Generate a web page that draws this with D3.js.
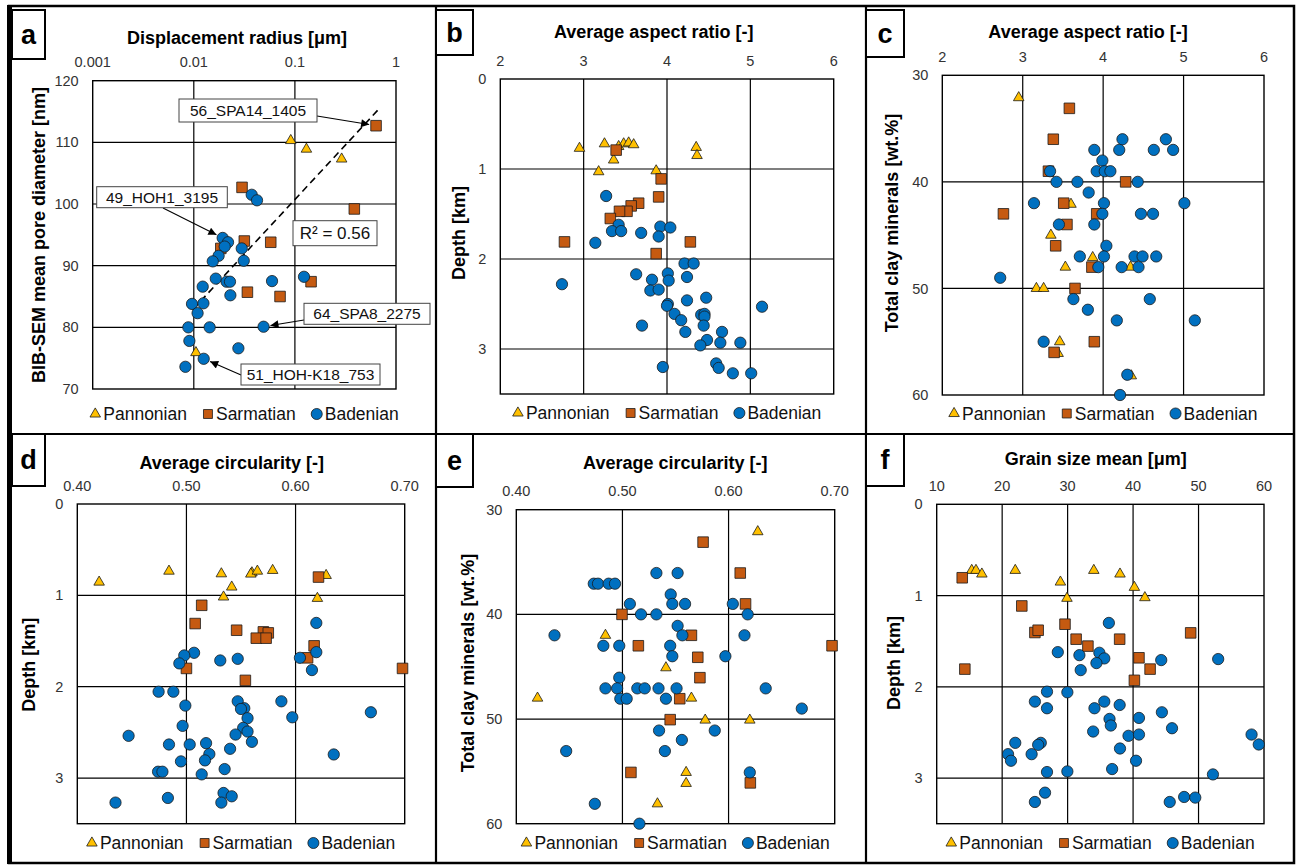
<!DOCTYPE html>
<html>
<head>
<meta charset="utf-8">
<script src="https://cdn.jsdelivr.net/npm/d3@7"></script>
<style>
  body { margin: 0; background: #fff; }
  svg { display: block; font-family: "Liberation Sans", Arial, sans-serif; }
</style>
</head>
<body>
<svg id="fig" width="1296" height="866"></svg>
<script>
// ---- data ----
const seriesNames = ["Pannonian", "Sarmatian", "Badenian"];

const aXTicks = [0.001, 0.01, 0.1, 1];
const aYTicks = [70, 80, 90, 100, 110, 120];
const ratioTicks = [2, 3, 4, 5, 6];
const depthTicks = [0, 1, 2, 3];
const clayTicks = [30, 40, 50, 60];
const circTicks = [0.40, 0.50, 0.60, 0.70];
const grainTicks = [10, 20, 30, 40, 50, 60];

// a: displacement radius [um] vs BIB-SEM mean pore diameter [nm]
const aPannonian = [[0.091,110.3],[0.13,108.9],[0.29,107.3],[0.0105,75.9]];
const aSarmatian = [[0.635,112.7],[0.030,102.7],[0.387,99.2],[0.0316,94.0],[0.0577,93.8],[0.0185,92.8],[0.0339,85.7],[0.0713,85.0],[0.1445,87.4]];
const aBadenian = [[0.0374,101.5],[0.0422,100.6],[0.0193,94.5],[0.0218,93.8],[0.0202,93.1],[0.0298,92.8],[0.0176,91.6],[0.0154,90.7],[0.0312,90.8],[0.0165,87.9],[0.0211,87.4],[0.0228,87.4],[0.0594,87.5],[0.123,88.2],[0.01225,86.6],[0.023,85.2],[0.0096,83.8],[0.01245,83.9],[0.0109,82.3],[0.00883,80.0],[0.01435,80.0],[0.049,80.1],[0.00904,77.8],[0.0276,76.6],[0.01253,74.9],[0.00826,73.6]];
const aTrendX = [0.0098, 0.685];
const aTrendY = [82.9, 115.5];
const aLabels = ["56_SPA14_1405", "49_HOH1_3195", "64_SPA8_2275", "51_HOH-K18_753"];
const aLabelTargets = [[0.635,112.7],[0.0193,94.5],[0.049,80.1],[0.01253,74.9]];
const aR2 = "R\u00b2 = 0.56";

// b: aspect ratio vs depth
const bPannonian = [[2.95,0.77],[3.25,0.72],[3.42,0.75],[3.48,0.72],[3.54,0.71],[3.60,0.73],[3.36,0.90],[3.18,1.03],[3.87,1.02],[4.35,0.76],[4.36,0.85]];
const bSarmatian = [[3.39,0.79],[3.93,1.11],[3.90,1.31],[3.66,1.38],[3.57,1.41],[3.52,1.47],[3.43,1.47],[3.32,1.55],[2.77,1.81],[4.28,1.81],[3.87,1.94]];
const bBadenian = [[3.27,1.30],[3.42,1.62],[3.34,1.69],[3.45,1.69],[3.69,1.71],[3.92,1.64],[4.04,1.65],[3.90,1.75],[3.14,1.82],[2.74,2.28],[4.21,2.05],[4.32,2.05],[3.63,2.17],[4.01,2.16],[4.02,2.24],[4.24,2.20],[3.82,2.23],[3.80,2.35],[3.90,2.34],[4.47,2.43],[4.24,2.46],[4.01,2.50],[4.00,2.52],[5.14,2.53],[4.09,2.61],[4.41,2.62],[4.45,2.61],[4.45,2.64],[4.17,2.68],[4.44,2.74],[3.70,2.74],[4.22,2.81],[4.66,2.81],[4.48,2.90],[4.64,2.93],[4.88,2.93],[4.40,2.96],[4.59,3.16],[4.62,3.21],[3.95,3.20],[4.79,3.27],[5.01,3.27]];

// c: aspect ratio vs total clay minerals
const cPannonian = [[2.95,32.1],[3.60,42.1],[3.35,45.0],[3.87,47.1],[3.53,48.0],[4.34,48.0],[3.17,50.0],[3.26,50.0],[3.46,55.0],[3.44,56.1],[4.35,58.2]];
const cSarmatian = [[3.58,33.1],[3.38,36.0],[3.32,39.0],[4.28,40.0],[3.51,42.0],[2.76,43.0],[3.92,43.0],[3.55,44.0],[3.41,46.0],[3.86,48.0],[3.65,50.0],[3.89,55.0],[3.39,56.0]];
const cBadenian = [[4.24,36.0],[4.78,36.0],[3.89,37.0],[4.20,37.0],[4.63,37.0],[4.87,37.0],[3.99,38.0],[3.34,39.0],[3.92,39.0],[4.02,39.0],[4.09,39.0],[3.42,40.0],[3.68,40.0],[4.43,40.0],[3.82,41.0],[3.14,42.0],[4.01,42.0],[5.01,42.0],[3.99,43.0],[4.47,43.0],[4.62,43.0],[3.45,44.0],[3.89,44.0],[4.04,46.0],[3.71,47.0],[4.01,47.0],[4.39,47.0],[4.49,47.0],[4.66,47.0],[3.94,48.0],[4.23,48.0],[4.44,48.0],[2.72,49.0],[3.63,51.0],[4.58,51.0],[3.81,52.0],[4.17,53.0],[5.14,53.0],[3.26,55.0],[4.30,58.1],[4.21,60.0]];

// d: circularity vs depth
const dPannonian = [[0.420,0.855],[0.484,0.735],[0.532,0.764],[0.560,0.753],[0.559,0.767],[0.565,0.735],[0.579,0.727],[0.5415,0.909],[0.534,1.018],[0.628,0.782],[0.620,1.033]];
const dSarmatian = [[0.621,0.80],[0.514,1.109],[0.508,1.309],[0.546,1.382],[0.5705,1.40],[0.575,1.411],[0.564,1.469],[0.573,1.469],[0.617,1.553],[0.611,1.684],[0.500,1.80],[0.698,1.80],[0.554,1.931]];
const dBadenian = [[0.619,1.302],[0.619,1.622],[0.604,1.684],[0.615,1.818],[0.507,1.629],[0.498,1.658],[0.4935,1.745],[0.531,1.713],[0.547,1.695],[0.4745,2.055],[0.488,2.055],[0.499,2.207],[0.547,2.16],[0.553,2.236],[0.550,2.244],[0.587,2.16],[0.556,2.345],[0.597,2.335],[0.669,2.28],[0.4965,2.429],[0.552,2.451],[0.556,2.491],[0.545,2.524],[0.447,2.538],[0.560,2.604],[0.484,2.633],[0.503,2.633],[0.518,2.618],[0.521,2.738],[0.540,2.68],[0.517,2.807],[0.495,2.818],[0.635,2.742],[0.535,2.902],[0.474,2.931],[0.478,2.931],[0.514,2.96],[0.534,3.164],[0.5415,3.20],[0.532,3.269],[0.483,3.218],[0.435,3.269]];

// e: circularity vs total clay minerals
const ePannonian = [[0.6275,32.1],[0.484,42.0],[0.541,45.1],[0.420,48.0],[0.565,48.0],[0.578,50.1],[0.620,50.1],[0.560,55.1],[0.560,56.15],[0.533,58.1]];
const eSarmatian = [[0.576,33.1],[0.611,36.05],[0.616,39.0],[0.4996,40.0],[0.565,42.0],[0.515,43.0],[0.6975,43.0],[0.571,44.1],[0.573,46.05],[0.554,48.06],[0.545,50.06],[0.508,55.1],[0.6205,56.1]];
const eBadenian = [[0.532,36.05],[0.552,36.05],[0.473,37.07],[0.477,37.07],[0.487,37.07],[0.493,37.07],[0.5455,38.1],[0.507,39.0],[0.547,39.0],[0.559,39.0],[0.604,39.0],[0.5175,40.0],[0.532,40.0],[0.618,40.0],[0.552,41.1],[0.5565,42.0],[0.436,42.0],[0.615,42.0],[0.482,43.0],[0.497,43.0],[0.545,43.0],[0.547,44.0],[0.597,44.0],[0.497,46.05],[0.484,47.07],[0.495,47.07],[0.514,47.07],[0.521,47.07],[0.534,47.07],[0.551,47.07],[0.635,47.07],[0.498,48.06],[0.504,48.06],[0.541,48.06],[0.669,49.0],[0.5345,51.1],[0.587,51.1],[0.556,52.0],[0.540,53.06],[0.447,53.06],[0.620,55.1],[0.474,58.1],[0.516,60.0]];

// f: grain size mean vs depth
const fPannonian = [[15.35,0.724],[16.0,0.724],[16.9,0.764],[22.0,0.724],[28.9,0.852],[34.0,0.724],[38.0,0.764],[40.2,0.91],[41.8,1.023],[29.9,1.03]];
const fSarmatian = [[13.9,0.805],[23.0,1.114],[29.6,1.314],[25.0,1.405],[25.5,1.38],[31.3,1.478],[33.1,1.554],[37.95,1.478],[48.8,1.409],[40.9,1.682],[42.6,1.806],[14.3,1.806],[40.2,1.929]];
const fBadenian = [[36.3,1.30],[28.5,1.62],[31.8,1.653],[34.85,1.627],[35.6,1.689],[34.4,1.74],[32.0,1.817],[44.3,1.707],[53.0,1.696],[26.85,2.053],[29.96,2.06],[25.0,2.162],[26.85,2.235],[35.6,2.162],[34.1,2.235],[37.95,2.199],[44.4,2.279],[36.4,2.352],[40.9,2.341],[36.6,2.424],[45.95,2.454],[33.9,2.49],[39.3,2.537],[40.9,2.523],[58.1,2.523],[59.2,2.632],[22.0,2.614],[25.9,2.614],[25.5,2.636],[20.9,2.738],[24.5,2.738],[21.35,2.81],[38.0,2.676],[40.45,2.81],[26.85,2.934],[29.96,2.927],[36.8,2.901],[52.2,2.96],[26.55,3.16],[25.0,3.262],[45.6,3.262],[47.8,3.207],[49.5,3.214]];

// ---- styles ----
const markerFill = ["#FFC000", "#C55A11", "#0070C0"];
const markerType = [d3.symbolTriangle, d3.symbolSquare, d3.symbolCircle];
const markerSize = [48, 112, 100];

const svg = d3.select("#fig");

// figure frame
svg.append("rect").attr("x", 9).attr("y", 6).attr("width", 1285).attr("height", 857)
    .attr("fill", "none").attr("stroke", "#000").attr("stroke-width", 2.5);
svg.append("line").attr("x1", 9.5).attr("x2", 9.5).attr("y1", 5).attr("y2", 864)
    .attr("stroke", "#000").attr("stroke-width", 5);
[436, 866].forEach(x => svg.append("line").attr("x1", x).attr("x2", x).attr("y1", 6).attr("y2", 863)
    .attr("stroke", "#000").attr("stroke-width", 2.2));
svg.append("line").attr("x1", 9).attr("x2", 1294).attr("y1", 434).attr("y2", 434)
    .attr("stroke", "#000").attr("stroke-width", 1.8);

const fmtPlain = d => String(d);
const fmt2 = d3.format(".2f");

const panels = [
    {letter: "a", box: [12, 10, 45, 59], plot: [92.7, 80.7, 396, 389],
     xlog: true, xDomain: [0.001, 1], xTicks: aXTicks, xFmt: fmtPlain,
     yDomain: [120, 70], yTicks: aYTicks,
     xTitle: "Displacement radius [\u03bcm]", titlePos: [237, 38],
     yTitle: "BIB-SEM mean pore diameter [nm]", yTitlePos: [39, 235],
     series: [aPannonian, aSarmatian, aBadenian], legendY: 414},
    {letter: "b", box: [436, 10, 473, 55], plot: [500.3, 79, 833.7, 394],
     xDomain: [2, 6], xTicks: ratioTicks, xFmt: fmtPlain,
     yDomain: [0, 3.5], yTicks: depthTicks,
     xTitle: "Average aspect ratio [-]", titlePos: [653.7, 31.7],
     yTitle: "Depth [km]", yTitlePos: [458.7, 233],
     series: [bPannonian, bSarmatian, bBadenian], legendY: 413},
    {letter: "c", box: [866, 10, 904, 57], plot: [942.3, 75.3, 1264, 395],
     xDomain: [2, 6], xTicks: ratioTicks, xFmt: fmtPlain,
     yDomain: [30, 60], yTicks: clayTicks,
     xTitle: "Average aspect ratio [-]", titlePos: [1088, 31.7],
     yTitle: "Total clay minerals [wt.%]", yTitlePos: [892, 223],
     series: [cPannonian, cSarmatian, cBadenian], legendY: 413.5},
    {letter: "d", box: [12, 434, 45, 486], plot: [77.3, 504, 404.7, 823.7],
     xDomain: [0.40, 0.70], xTicks: circTicks, xFmt: fmt2,
     yDomain: [0, 3.5], yTicks: depthTicks,
     xTitle: "Average circularity [-]", titlePos: [231.7, 463],
     yTitle: "Depth [km]", yTitlePos: [28.3, 664.7],
     series: [dPannonian, dSarmatian, dBadenian], legendY: 843},
    {letter: "e", box: [436, 434, 473, 487], plot: [516.3, 509.7, 834.7, 823.7],
     xDomain: [0.40, 0.70], xTicks: circTicks, xFmt: fmt2,
     yDomain: [30, 60], yTicks: clayTicks,
     xTitle: "Average circularity [-]", titlePos: [675.3, 462.3],
     yTitle: "Total clay minerals [wt.%]", yTitlePos: [468, 663],
     series: [ePannonian, eSarmatian, eBadenian], legendY: 843},
    {letter: "f", box: [866, 434, 904, 486], plot: [936.7, 504.3, 1264, 823.7],
     xDomain: [10, 60], xTicks: grainTicks, xFmt: fmtPlain,
     yDomain: [0, 3.5], yTicks: depthTicks,
     xTitle: "Grain size mean [\u03bcm]", titlePos: [1095.7, 458.7],
     yTitle: "Depth [km]", yTitlePos: [894, 663],
     series: [fPannonian, fSarmatian, fBadenian], legendY: 843}
];

function drawPanel(p) {
    const [x0, y0, x1, y1] = p.plot;
    const x = (p.xlog ? d3.scaleLog() : d3.scaleLinear()).domain(p.xDomain).range([x0, x1]);
    const y = d3.scaleLinear().domain(p.yDomain).range([y0, y1]);
    const g = svg.append("g");

    // grid
    const xMin = Math.min(...p.xDomain), xMax = Math.max(...p.xDomain);
    const yMin = Math.min(...p.yDomain), yMax = Math.max(...p.yDomain);
    g.selectAll(".gx").data(p.xTicks.filter(t => t > xMin && t < xMax)).enter().append("line")
        .attr("x1", d => x(d)).attr("x2", d => x(d)).attr("y1", y0).attr("y2", y1)
        .attr("stroke", "#000").attr("stroke-width", 1.2);
    g.selectAll(".gy").data(p.yTicks.filter(t => t > yMin && t < yMax)).enter().append("line")
        .attr("x1", x0).attr("x2", x1).attr("y1", d => y(d)).attr("y2", d => y(d))
        .attr("stroke", "#000").attr("stroke-width", 1.2);
    g.append("rect").attr("x", x0).attr("y", y0).attr("width", x1 - x0).attr("height", y1 - y0)
        .attr("fill", "none").attr("stroke", "#000").attr("stroke-width", 1.4);

    // tick labels
    g.selectAll(".tx").data(p.xTicks).enter().append("text")
        .attr("x", d => x(d)).attr("y", y0 - 18.5).attr("dy", "0.35em")
        .attr("text-anchor", "middle").attr("font-size", 14.5).attr("fill", "#333")
        .text(p.xFmt);
    g.selectAll(".ty").data(p.yTicks).enter().append("text")
        .attr("x", x0 - 14).attr("y", d => y(d)).attr("dy", "0.35em")
        .attr("text-anchor", "end").attr("font-size", 14.5).attr("fill", "#333")
        .text(d => String(d));

    // titles
    g.append("text").attr("x", p.titlePos[0]).attr("y", p.titlePos[1]).attr("dy", "0.35em")
        .attr("text-anchor", "middle").attr("font-size", 18).attr("font-weight", "bold")
        .text(p.xTitle);
    g.append("text").attr("transform", `translate(${p.yTitlePos[0]},${p.yTitlePos[1]}) rotate(-90)`)
        .attr("dy", "0.35em").attr("text-anchor", "middle").attr("font-size", 18)
        .attr("font-weight", "bold").text(p.yTitle);

    // panel letter box
    const [bx0, by0, bx1, by1] = p.box;
    g.append("rect").attr("x", bx0).attr("y", by0).attr("width", bx1 - bx0).attr("height", by1 - by0)
        .attr("fill", "#fff").attr("stroke", "#000").attr("stroke-width", 2);
    g.append("text").attr("x", (bx0 + bx1) / 2).attr("y", (by0 + by1) / 2).attr("dy", "0.35em")
        .attr("text-anchor", "middle").attr("font-size", 27).attr("font-weight", "bold")
        .text(p.letter);

    // trend line (panel a only)
    if (p.trend) p.trend(g, x, y);

    // markers
    p.series.forEach((s, i) => {
        g.append("g").selectAll("path").data(s).enter().append("path")
            .attr("transform", d => `translate(${x(d[0])},${y(d[1])})`)
            .attr("d", d3.symbol().type(markerType[i]).size(markerSize[i]))
            .attr("fill", markerFill[i]).attr("stroke", "#1a1a1a").attr("stroke-width", 0.8);
    });

    if (p.annotate) p.annotate(g, x, y);

    // legend
    const lg = g.append("g");
    let cx = 0;
    seriesNames.forEach((name, i) => {
        lg.append("path").attr("transform", `translate(${cx},0)`)
            .attr("d", d3.symbol().type(markerType[i]).size(i === 1 ? 80 : (i === 0 ? 48 : 96)))
            .attr("fill", markerFill[i]).attr("stroke", "#1a1a1a").attr("stroke-width", 0.8);
        const t = lg.append("text").attr("x", cx + 8).attr("y", 0).attr("dy", "0.36em")
            .attr("font-size", 17.5).attr("fill", "#111").text(name);
        cx += 8 + t.node().getComputedTextLength() + 21;
    });
    const bb = lg.node().getBBox();
    lg.attr("transform", `translate(${(x0 + x1) / 2 - (bb.x + bb.width / 2)},${p.legendY})`);
}

// panel a extras
panels[0].trend = (g, x, y) => {
    g.append("line")
        .attr("x1", x(aTrendX[0])).attr("y1", y(aTrendY[0]))
        .attr("x2", x(aTrendX[1])).attr("y2", y(aTrendY[1]))
        .attr("stroke", "#000").attr("stroke-width", 1.6).attr("stroke-dasharray", "7,4.5");
};

const aBoxes = [
    {rect: [179, 99, 317, 122], from: [317, 116]},
    {rect: [96.7, 186.7, 227.3, 207.7], from: [163, 208]},
    {rect: [304, 303.3, 430, 324.3], from: [304, 320]},
    {rect: [241, 364, 380, 385], from: [241, 375]}
];
const aR2Box = [293, 220.7, 377, 245.7];

panels[0].annotate = (g, x, y) => {
    const defs = svg.append("defs");
    defs.append("marker").attr("id", "arr").attr("viewBox", "0 0 10 10")
        .attr("refX", 10).attr("refY", 5).attr("markerWidth", 10).attr("markerHeight", 8)
        .attr("markerUnits", "userSpaceOnUse").attr("orient", "auto")
        .append("path").attr("d", "M0,0L10,5L0,10Z").attr("fill", "#000");

    aLabels.forEach((lab, i) => {
        const b = aBoxes[i];
        const tx = x(aLabelTargets[i][0]), ty = y(aLabelTargets[i][1]);
        const dx = tx - b.from[0], dy = ty - b.from[1];
        const len = Math.hypot(dx, dy);
        const ex = tx - dx / len * 7, ey = ty - dy / len * 7;
        g.append("line").attr("x1", b.from[0]).attr("y1", b.from[1]).attr("x2", ex).attr("y2", ey)
            .attr("stroke", "#000").attr("stroke-width", 1.1).attr("marker-end", "url(#arr)");
        const [r0, r1, r2, r3] = b.rect;
        g.append("rect").attr("x", r0).attr("y", r1).attr("width", r2 - r0).attr("height", r3 - r1)
            .attr("fill", "#fff").attr("stroke", "#444").attr("stroke-width", 1);
        g.append("text").attr("x", (r0 + r2) / 2).attr("y", (r1 + r3) / 2).attr("dy", "0.36em")
            .attr("text-anchor", "middle").attr("font-size", 15.5).attr("fill", "#111").text(lab);
    });
    const [q0, q1, q2, q3] = aR2Box;
    g.append("rect").attr("x", q0).attr("y", q1).attr("width", q2 - q0).attr("height", q3 - q1)
        .attr("fill", "#fff").attr("stroke", "#444").attr("stroke-width", 1);
    g.append("text").attr("x", (q0 + q2) / 2).attr("y", (q1 + q3) / 2).attr("dy", "0.36em")
        .attr("text-anchor", "middle").attr("font-size", 17).attr("fill", "#111").text(aR2);
};

panels.forEach(drawPanel);
</script>
</body>
</html>
